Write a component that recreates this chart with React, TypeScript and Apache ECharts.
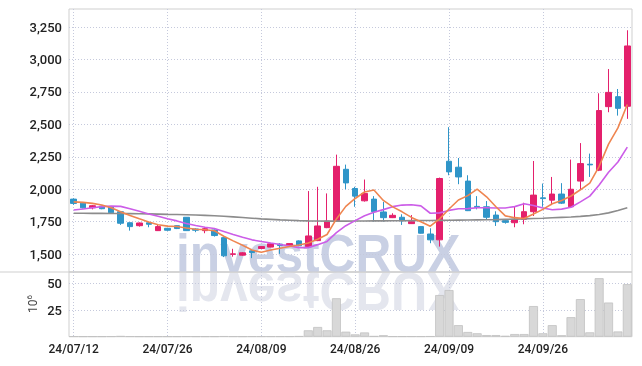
import React, { useEffect, useRef } from 'react';
import * as echarts from 'echarts';

const dates = [
  '24/07/12', '24/07/15', '24/07/16', '24/07/17', '24/07/18', '24/07/19', '24/07/22', '24/07/23', '24/07/24', '24/07/25',
  '24/07/26', '24/07/29', '24/07/30', '24/07/31', '24/08/01', '24/08/02', '24/08/05', '24/08/06', '24/08/07', '24/08/08',
  '24/08/09', '24/08/12', '24/08/13', '24/08/14', '24/08/16', '24/08/19', '24/08/20', '24/08/21', '24/08/22', '24/08/23',
  '24/08/26', '24/08/27', '24/08/28', '24/08/29', '24/08/30', '24/09/02', '24/09/03', '24/09/04', '24/09/05', '24/09/06',
  '24/09/09', '24/09/10', '24/09/11', '24/09/12', '24/09/13', '24/09/19', '24/09/20', '24/09/23', '24/09/24', '24/09/25',
  '24/09/26', '24/09/27', '24/09/30', '24/10/02', '24/10/04', '24/10/07', '24/10/08', '24/10/10', '24/10/11', '24/10/14',
];

const opens = [
  1924, 1893, 1857, 1870, 1865, 1827, 1742, 1719, 1742, 1681,
  1699, 1719, 1784, 1694, 1681, 1686, 1627, 1498, 1492, 1525,
  1543, 1554, 1577, 1569, 1602, 1558, 1604, 1704, 1758, 2154,
  2006, 1911, 1924, 1825, 1781, 1784, 1735, 1712, 1655, 1610,
  2216, 2170, 2063, 1868, 1865, 1801, 1758, 1742, 1768, 1827,
  1934, 1916, 1963, 1865, 2063, 2193, 2147, 2637, 2714, 2640,
];
const closes = [
  1891, 1857, 1873, 1850, 1819, 1738, 1712, 1740, 1730, 1712,
  1684, 1697, 1681, 1684, 1696, 1643, 1487, 1502, 1510, 1512,
  1558, 1579, 1566, 1581, 1564, 1640, 1717, 1755, 2177, 2049,
  1947, 1968, 1827, 1781, 1799, 1757, 1750, 1661, 1610, 2083,
  2134, 2095, 1835, 1860, 1784, 1750, 1745, 1768, 1827, 1955,
  1928, 1963, 1893, 2000, 2198, 2188, 2607, 2747, 2624, 3105,
];
const lows = [
  1880, 1852, 1845, 1846, 1815, 1725, 1681, 1712, 1707, 1678,
  1680, 1693, 1678, 1669, 1661, 1635, 1477, 1480, 1488, 1469,
  1540, 1552, 1502, 1566, 1560, 1555, 1600, 1700, 1750, 2000,
  1865, 1905, 1750, 1750, 1778, 1725, 1732, 1658, 1584, 1558,
  2108, 2039, 1832, 1845, 1763, 1717, 1735, 1707, 1730, 1794,
  1865, 1878, 1886, 1860, 2000, 2095, 2140, 2594, 2568, 2543,
];
const highs = [
  1930, 1896, 1878, 1874, 1868, 1830, 1745, 1744, 1745, 1725,
  1703, 1722, 1786, 1699, 1707, 1690, 1630, 1541, 1515, 1540,
  1562, 1582, 1584, 1585, 1606, 1986, 2019, 1968, 2267, 2190,
  2019, 2075, 1947, 1903, 1815, 1807, 1801, 1715, 1699, 2090,
  2479, 2241, 2108, 1947, 1909, 1830, 1770, 1865, 1896, 2218,
  2044, 2095, 2047, 2229, 2356, 2275, 2740, 2927, 2773, 3226,
];
const volumes = [
  0.3, 0.2, 0.2, 0.2, 0.3, 0.6, 0.3, 0.2, 0.2, 0.2,
  0.2, 0.2, 0.3, 0.2, 0.2, 0.2, 0.4, 0.3, 0.2, 0.3,
  0.3, 0.3, 0.3, 0.3, 0.5, 6.0, 9.1, 6.0, 36.0, 4.7,
  2.2, 4.0, 0.6, 1.4, 0.3, 0.3, 0.3, 0.3, 0.4, 39.0,
  43.7, 10.8, 4.4, 3.2, 1.5, 1.5, 0.7, 2.5, 2.5, 28.7,
  3.2, 10.8, 1.4, 18.3, 35.2, 4.1, 54.8, 32.0, 4.9, 49.2,
];
const ma5 = [
  1903, 1899, 1891, 1878, 1858, 1827, 1798, 1772, 1748, 1726,
  1716, 1713, 1701, 1692, 1688, 1680, 1638, 1602, 1568, 1531,
  1514, 1532, 1545, 1559, 1570, 1586, 1614, 1651, 1771, 1868,
  1929, 1979, 1994, 1914, 1864, 1826, 1783, 1750, 1715, 1772,
  1848, 1917, 1951, 2001, 1942, 1865, 1795, 1781, 1775, 1809,
  1845, 1888, 1913, 1948, 1996, 2048, 2177, 2348, 2473, 2654,
];
const ma10 = [
  1840, 1848, 1858, 1866, 1870, 1868, 1850, 1830, 1810, 1792,
  1772, 1756, 1736, 1720, 1707, 1698, 1675, 1652, 1630, 1610,
  1597, 1585, 1574, 1563, 1550, 1550, 1573, 1598, 1665, 1719,
  1758, 1796, 1823, 1843, 1866, 1878, 1881, 1872, 1815, 1818,
  1837, 1850, 1851, 1858, 1857, 1856, 1856, 1866, 1888, 1875,
  1855, 1842, 1847, 1861, 1903, 1947, 2033, 2131, 2210, 2325,
];
const ma60 = [
  1815, 1815, 1814, 1814, 1813, 1813, 1812, 1811, 1810, 1808,
  1806, 1805, 1803, 1801, 1799, 1796, 1792, 1787, 1782, 1777,
  1772, 1768, 1764, 1761, 1758, 1756, 1755, 1754, 1754, 1754,
  1755, 1755, 1756, 1756, 1757, 1757, 1758, 1759, 1759, 1760,
  1761, 1762, 1763, 1764, 1765, 1766, 1768, 1770, 1772, 1775,
  1777, 1780, 1783, 1786, 1791, 1797, 1806, 1818, 1836, 1858,
];
const priceTicks = [1500, 1750, 2000, 2250, 2500, 2750, 3000, 3250];
const volumeTicks = [25, 50];
const watermark = 'investCRUX';
const volumeUnit = '10';
const volumeExp = '6';

export default function App() {
  const ref = useRef<HTMLDivElement>(null);

  useEffect(() => {
    const chart = echarts.init(ref.current as HTMLDivElement, null, { renderer: 'svg' });
    const candleData = dates.map((_, i) => [opens[i], closes[i], lows[i], highs[i]]);
    const dotted = { show: true, lineStyle: { color: '#c5c9dc', width: 1, type: [1, 2] as number[] } };
    const vSplit = { show: true, interval: 9, alignWithLabel: true, lineStyle: { color: '#c5c9dc', width: 1, type: [1, 2] as number[] } };
    const lineSeries = (data: number[], color: string, z: number) => ({
      type: 'line',
      xAxisIndex: 0,
      yAxisIndex: 0,
      data,
      showSymbol: false,
      symbol: 'none',
      smooth: false,
      z,
      lineStyle: { color, width: 1.6 },
    });

    chart.setOption({
      animation: false,
      textStyle: { fontFamily: 'Roboto' },
      grid: [
        { left: 69, right: 10, top: 9, height: 263, show: true, borderColor: '#cfcfcf', borderWidth: 1 },
        { left: 69, right: 10, top: 272, height: 64.7, show: true, borderColor: '#cfcfcf', borderWidth: 1 },
      ],
      xAxis: [
        {
          type: 'category', gridIndex: 0, data: dates, boundaryGap: true,
          axisLine: { show: false }, axisTick: { show: false }, axisLabel: { show: false },
          splitLine: vSplit,
        },
        {
          type: 'category', gridIndex: 1, data: dates, boundaryGap: true,
          axisLine: { show: false }, axisTick: { show: false },
          axisLabel: { show: true, interval: 9, fontSize: 12, fontWeight: 500, color: '#222', margin: 6 },
          splitLine: vSplit,
        },
      ],
      yAxis: [
        {
          type: 'value', gridIndex: 0, min: 1362, max: 3390,
          axisLine: { show: false },
          axisTick: { show: false, customValues: priceTicks },
          axisLabel: {
            customValues: priceTicks, fontSize: 13, fontWeight: 500, color: '#222', margin: 7,
            formatter: (v: number) => v.toLocaleString('en-US'),
          },
          splitLine: dotted,
        },
        {
          type: 'value', gridIndex: 1, min: 0, max: 60.6,
          axisLine: { show: false },
          axisTick: { show: false, customValues: volumeTicks },
          axisLabel: { customValues: volumeTicks, fontSize: 13, fontWeight: 500, color: '#222', margin: 7 },
          splitLine: dotted,
        },
      ],
      graphic: [
        {
          type: 'group', x: 176, y: 272, scaleX: 0.92, silent: true, z: 0,
          children: [{
            type: 'text', x: 0, y: 8.3,
            style: { text: watermark, fontSize: 54, fontWeight: 'bold', fontFamily: 'Liberation Sans', fill: '#c9d0e4', align: 'left', verticalAlign: 'bottom' },
          }],
        },
        {
          type: 'group', x: 176, y: 273, scaleX: 0.92, scaleY: -1, silent: true, z: 0,
          children: [{
            type: 'text', x: 0, y: 8.3,
            style: { text: watermark, fontSize: 54, fontWeight: 'bold', fontFamily: 'Liberation Sans', fill: '#e4e6ee', align: 'left', verticalAlign: 'bottom' },
          }],
        },
        {
          type: 'line', silent: true, z: 50,
          shape: { x1: 0, y1: 272, x2: 632, y2: 272 },
          style: { stroke: '#cfcfcf', lineWidth: 1 },
        },
        {
          type: 'text', x: 33, y: 304, rotation: Math.PI / 2, silent: true, z: 50,
          style: {
            text: '{a|' + volumeUnit + '}{b|' + volumeExp + '}',
            align: 'center', verticalAlign: 'middle',
            rich: {
              a: { fontSize: 12, fill: '#444', fontFamily: 'Roboto' },
              b: { fontSize: 8, fill: '#444', fontFamily: 'Roboto', padding: [0, 0, 7, 0] },
            },
          },
        },
      ],
      series: [
        {
          type: 'candlestick', xAxisIndex: 0, yAxisIndex: 0, data: candleData, barWidth: 6, z: 3,
          itemStyle: { color: '#e4206c', color0: '#2f95c8', borderColor: '#e4206c', borderColor0: '#2f95c8', borderWidth: 1 },
        },
        lineSeries(ma60, '#8c8c8c', 4),
        lineSeries(ma10, '#cc5de8', 5),
        lineSeries(ma5, '#ef8550', 6),
        {
          type: 'bar', xAxisIndex: 1, yAxisIndex: 1, data: volumes, barCategoryGap: '4%', z: 3,
          itemStyle: { color: '#d8d8d8', borderColor: '#c2c2c2', borderWidth: 0.8 },
        },
      ],
    });

    return () => chart.dispose();
  }, []);

  return <div ref={ref} style={{ position: 'fixed', left: 0, top: 0, width: 642, height: 366 }} />;
}
